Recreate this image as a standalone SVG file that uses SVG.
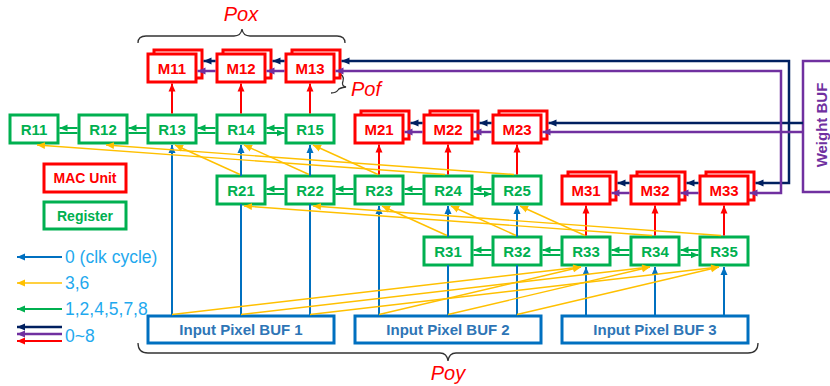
<svg xmlns="http://www.w3.org/2000/svg" width="830" height="386" viewBox="0 0 830 386">
<style>
.reg rect{fill:#fff;stroke:#00B050;stroke-width:3}
.reg text{fill:#00B050;font:bold 15px "Liberation Sans",Arial,sans-serif;text-anchor:middle}
.mac rect{fill:#fff;stroke:#FF0000;stroke-width:3}
.mac text{fill:#FF0000;font:bold 15px "Liberation Sans",Arial,sans-serif;text-anchor:middle}
.buf rect{fill:#fff;stroke:#0070C0;stroke-width:3}
.buf text{fill:#2E75B6;font:bold 15px "Liberation Sans",Arial,sans-serif;text-anchor:middle}
.g{stroke:#00B050;stroke-width:2;fill:none}
.b{stroke:#0070C0;stroke-width:2;fill:none}
.y{stroke:#FFC000;stroke-width:1.4;fill:none}
.r{stroke:#FF0000;stroke-width:2;fill:none}
.n{stroke:#002060;stroke-width:2.5;fill:none}
.p{stroke:#7030A0;stroke-width:2.5;fill:none}
.lg{fill:#1FA9EE;font:17.5px "Liberation Sans",Arial,sans-serif}
.it{fill:#FF0000;font:italic 20px "Liberation Sans",Arial,sans-serif}
.br{stroke:#333;stroke-width:1.3;fill:none}
</style>
<defs>
<marker id="ag" markerUnits="userSpaceOnUse" markerWidth="8" markerHeight="8" viewBox="0 0 8 8" refX="8" refY="4" orient="auto"><path d="M0,0.5L8,4L0,7.5z" fill="#00B050"/></marker>
<marker id="ab" markerUnits="userSpaceOnUse" markerWidth="8" markerHeight="8" viewBox="0 0 8 8" refX="8" refY="4" orient="auto"><path d="M0,0.5L8,4L0,7.5z" fill="#0070C0"/></marker>
<marker id="ay" markerUnits="userSpaceOnUse" markerWidth="8" markerHeight="8" viewBox="0 0 8 8" refX="8" refY="4" orient="auto"><path d="M0,0.5L8,4L0,7.5z" fill="#FFC000"/></marker>
<marker id="ar" markerUnits="userSpaceOnUse" markerWidth="8" markerHeight="8" viewBox="0 0 8 8" refX="8" refY="4" orient="auto"><path d="M0,0.5L8,4L0,7.5z" fill="#FF0000"/></marker>
<marker id="an" markerUnits="userSpaceOnUse" markerWidth="8" markerHeight="8" viewBox="0 0 8 8" refX="8" refY="4" orient="auto"><path d="M0,0.5L8,4L0,7.5z" fill="#002060"/></marker>
<marker id="ap" markerUnits="userSpaceOnUse" markerWidth="8" markerHeight="8" viewBox="0 0 8 8" refX="8" refY="4" orient="auto"><path d="M0,0.5L8,4L0,7.5z" fill="#7030A0"/></marker>
</defs>
<rect width="830" height="386" fill="#fff"/>

<!-- braces and labels -->
<path class="br" d="M138,43 Q138,36 146,36 L234,36 Q241,36 242,29 Q243,36 250,36 L337,36 Q345,36 345,43"/>
<text class="it" x="241" y="21" text-anchor="middle">Pox</text>
<path class="br" d="M337,73 Q345,75 343,81 Q341,86 346,87 Q339,88 338,90 Q336,93 331,93"/>
<text class="it" x="351" y="96">Pof</text>
<path class="br" d="M138,343 Q138,353 148,353 L440,353 Q447,353 448,361 Q449,353 456,353 L748,353 Q758,353 758,343"/>
<text class="it" x="448" y="380" text-anchor="middle">Poy</text>

<!-- Weight BUF -->
<g id="weightbuf">
<rect x="803" y="61" width="40" height="131" fill="#fff" stroke="#7030A0" stroke-width="2.5"/>
<text transform="translate(827,125) rotate(-90)" text-anchor="middle" fill="#7030A0" style="font:bold 15px 'Liberation Sans',Arial,sans-serif">Weight BUF</text>
</g>

<!-- MAC units -->
<g id="M11" class="mac"><rect x="154" y="50" width="48" height="28"/><rect x="148" y="54" width="48" height="28"/><text x="172" y="73.5">M11</text></g>
<g id="M12" class="mac"><rect x="223" y="50" width="48" height="28"/><rect x="217" y="54" width="48" height="28"/><text x="241" y="73.5">M12</text></g>
<g id="M13" class="mac"><rect x="292" y="50" width="48" height="28"/><rect x="286" y="54" width="48" height="28"/><text x="310" y="73.5">M13</text></g>
<g id="M21" class="mac"><rect x="361" y="111" width="48" height="28"/><rect x="355" y="115" width="48" height="28"/><text x="379" y="134.5">M21</text></g>
<g id="M22" class="mac"><rect x="430" y="111" width="48" height="28"/><rect x="424" y="115" width="48" height="28"/><text x="448" y="134.5">M22</text></g>
<g id="M23" class="mac"><rect x="499" y="111" width="48" height="28"/><rect x="493" y="115" width="48" height="28"/><text x="517" y="134.5">M23</text></g>
<g id="M31" class="mac"><rect x="568" y="172" width="48" height="28"/><rect x="562" y="176" width="48" height="28"/><text x="586" y="195.5">M31</text></g>
<g id="M32" class="mac"><rect x="637" y="172" width="48" height="28"/><rect x="631" y="176" width="48" height="28"/><text x="655" y="195.5">M32</text></g>
<g id="M33" class="mac"><rect x="706" y="172" width="48" height="28"/><rect x="700" y="176" width="48" height="28"/><text x="724" y="195.5">M33</text></g>

<!-- Registers -->
<g id="R11" class="reg"><rect x="10" y="115" width="48" height="28"/><text x="34" y="134.5">R11</text></g>
<g id="R12" class="reg"><rect x="79" y="115" width="48" height="28"/><text x="103" y="134.5">R12</text></g>
<g id="R13" class="reg"><rect x="148" y="115" width="48" height="28"/><text x="172" y="134.5">R13</text></g>
<g id="R14" class="reg"><rect x="217" y="115" width="48" height="28"/><text x="241" y="134.5">R14</text></g>
<g id="R15" class="reg"><rect x="286" y="115" width="48" height="28"/><text x="310" y="134.5">R15</text></g>
<g id="R21" class="reg"><rect x="217" y="176" width="48" height="28"/><text x="241" y="195.5">R21</text></g>
<g id="R22" class="reg"><rect x="286" y="176" width="48" height="28"/><text x="310" y="195.5">R22</text></g>
<g id="R23" class="reg"><rect x="355" y="176" width="48" height="28"/><text x="379" y="195.5">R23</text></g>
<g id="R24" class="reg"><rect x="424" y="176" width="48" height="28"/><text x="448" y="195.5">R24</text></g>
<g id="R25" class="reg"><rect x="493" y="176" width="48" height="28"/><text x="517" y="195.5">R25</text></g>
<g id="R31" class="reg"><rect x="424" y="237" width="48" height="28"/><text x="448" y="256.5">R31</text></g>
<g id="R32" class="reg"><rect x="493" y="237" width="48" height="28"/><text x="517" y="256.5">R32</text></g>
<g id="R33" class="reg"><rect x="562" y="237" width="48" height="28"/><text x="586" y="256.5">R33</text></g>
<g id="R34" class="reg"><rect x="631" y="237" width="48" height="28"/><text x="655" y="256.5">R34</text></g>
<g id="R35" class="reg"><rect x="700" y="237" width="48" height="28"/><text x="724" y="256.5">R35</text></g>

<!-- Input buffers -->
<g id="BUF1" class="buf"><rect x="148" y="316" width="186" height="27"/><text x="241" y="335">Input Pixel BUF 1</text></g>
<g id="BUF2" class="buf"><rect x="355" y="316" width="186" height="27"/><text x="448" y="335">Input Pixel BUF 2</text></g>
<g id="BUF3" class="buf"><rect x="562" y="316" width="186" height="27"/><text x="655" y="335">Input Pixel BUF 3</text></g>

<!-- Legend -->
<g id="legend-mac" class="mac"><rect x="44" y="164" width="82" height="28"/><text x="85" y="183" style="font-size:14px">MAC Unit</text></g>
<g id="legend-reg" class="reg"><rect x="44" y="202" width="82" height="27"/><text x="85" y="220.5" style="font-size:14px">Register</text></g>
<g id="legend-keys">
<path class="b" d="M62,257H17" marker-end="url(#ab)"/>
<path class="y" d="M62,283H17" stroke-width="2" marker-end="url(#ay)"/>
<path class="g" d="M62,309H17" marker-end="url(#ag)"/>
<path class="n" d="M62,327H17" marker-end="url(#an)"/>
<path class="p" d="M62,334H17" marker-end="url(#ap)"/>
<path class="r" d="M62,341H17" stroke-width="2.5" marker-end="url(#ar)"/>
<text class="lg" x="65" y="263">0 (clk cycle)</text>
<text class="lg" x="65" y="289">3,6</text>
<text class="lg" x="65" y="315">1,2,4,5,7,8</text>
<text class="lg" x="65" y="342">0~8</text>
</g>

<g id="connectors">
<!-- weight lines -->
<path class="n" d="M789,123V61H341.5" marker-end="url(#an)"/>
<path class="n" d="M789,123V183H755.5" marker-end="url(#an)"/>
<path class="n" d="M803,123H548.5" marker-end="url(#an)"/>
<path class="p" d="M781,132V71H335.5" marker-end="url(#ap)"/>
<path class="p" d="M781,132V193H749.5" marker-end="url(#ap)"/>
<path class="p" d="M803,132H542.5" marker-end="url(#ap)"/>
<path class="n" d="M215.5,61H203.5" marker-end="url(#an)"/>
<path class="n" d="M284.5,61H272.5" marker-end="url(#an)"/>
<path class="p" d="M215.5,71H197.5" marker-end="url(#ap)"/>
<path class="p" d="M284.5,71H266.5" marker-end="url(#ap)"/>
<path class="n" d="M422.5,123H410.5" marker-end="url(#an)"/>
<path class="n" d="M491.5,123H479.5" marker-end="url(#an)"/>
<path class="p" d="M422.5,132H404.5" marker-end="url(#ap)"/>
<path class="p" d="M491.5,132H473.5" marker-end="url(#ap)"/>
<path class="n" d="M629.5,183H617.5" marker-end="url(#an)"/>
<path class="n" d="M698.5,183H686.5" marker-end="url(#an)"/>
<path class="p" d="M629.5,193H611.5" marker-end="url(#ap)"/>
<path class="p" d="M698.5,193H680.5" marker-end="url(#ap)"/>
<!-- register to MAC -->
<path class="r" d="M172,113.5V83.5" marker-end="url(#ar)"/>
<path class="r" d="M241,113.5V83.5" marker-end="url(#ar)"/>
<path class="r" d="M310,113.5V83.5" marker-end="url(#ar)"/>
<path class="r" d="M379,174.5V144.5" marker-end="url(#ar)"/>
<path class="r" d="M448,174.5V144.5" marker-end="url(#ar)"/>
<path class="r" d="M517,174.5V144.5" marker-end="url(#ar)"/>
<path class="r" d="M586,235.5V205.5" marker-end="url(#ar)"/>
<path class="r" d="M655,235.5V205.5" marker-end="url(#ar)"/>
<path class="r" d="M724,235.5V205.5" marker-end="url(#ar)"/>
<!-- green shifts -->
<path class="g" d="M77.5,128H59.5" marker-end="url(#ag)"/><path class="g" d="M59.5,133H77.5"/>
<path class="g" d="M146.5,128H128.5" marker-end="url(#ag)"/><path class="g" d="M128.5,133H146.5"/>
<path class="g" d="M215.5,128H197.5" marker-end="url(#ag)"/><path class="g" d="M197.5,133H215.5"/>
<path class="g" d="M284.5,128H266.5" marker-end="url(#ag)"/><path class="g" d="M266.5,133H284.5" marker-end="url(#ag)"/>
<path class="g" d="M284.5,189H266.5" marker-end="url(#ag)"/><path class="g" d="M266.5,194H284.5"/>
<path class="g" d="M353.5,189H335.5" marker-end="url(#ag)"/><path class="g" d="M335.5,194H353.5"/>
<path class="g" d="M422.5,189H404.5" marker-end="url(#ag)"/><path class="g" d="M404.5,194H422.5"/>
<path class="g" d="M491.5,189H473.5" marker-end="url(#ag)"/><path class="g" d="M473.5,194H491.5" marker-end="url(#ag)"/>
<path class="g" d="M491.5,250H473.5" marker-end="url(#ag)"/><path class="g" d="M473.5,255H491.5"/>
<path class="g" d="M560.5,250H542.5" marker-end="url(#ag)"/><path class="g" d="M542.5,255H560.5"/>
<path class="g" d="M629.5,250H611.5" marker-end="url(#ag)"/><path class="g" d="M611.5,255H629.5"/>
<path class="g" d="M698.5,250H680.5" marker-end="url(#ag)"/><path class="g" d="M680.5,255H698.5" marker-end="url(#ag)"/>
<!-- input (clk 0) -->
<path class="b" d="M172,316V145" marker-end="url(#ab)"/>
<path class="b" d="M241,316V204"/><path class="b" d="M241,176V145" marker-end="url(#ab)"/>
<path class="b" d="M310,316V204"/><path class="b" d="M310,176V145" marker-end="url(#ab)"/>
<path class="b" d="M379,316V206" marker-end="url(#ab)"/>
<path class="b" d="M448,316V265"/><path class="b" d="M448,237V206" marker-end="url(#ab)"/>
<path class="b" d="M517,316V265"/><path class="b" d="M517,237V206" marker-end="url(#ab)"/>
<path class="b" d="M586,316V267" marker-end="url(#ab)"/>
<path class="b" d="M655,316V267" marker-end="url(#ab)"/>
<path class="b" d="M724,316V267" marker-end="url(#ab)"/>
<!-- clk 3,6 -->
<path class="y" d="M445,174.5L37,145" marker-end="url(#ay)"/>
<path class="y" d="M514,174.5L106,145" marker-end="url(#ay)"/>
<path class="y" d="M240,174.5L175,145" marker-end="url(#ay)"/>
<path class="y" d="M309,174.5L244,145" marker-end="url(#ay)"/>
<path class="y" d="M378,174.5L313,145" marker-end="url(#ay)"/>
<path class="y" d="M652,235.5L244,206" marker-end="url(#ay)"/>
<path class="y" d="M721,235.5L313,206" marker-end="url(#ay)"/>
<path class="y" d="M447,235.5L382,206" marker-end="url(#ay)"/>
<path class="y" d="M516,235.5L451,206" marker-end="url(#ay)"/>
<path class="y" d="M585,235.5L520,206" marker-end="url(#ay)"/>
<path class="y" d="M172,314.5L581,267" marker-end="url(#ay)"/>
<path class="y" d="M379,314.5L581,267" marker-end="url(#ay)"/>
<path class="y" d="M241,314.5L650,267" marker-end="url(#ay)"/>
<path class="y" d="M448,314.5L650,267" marker-end="url(#ay)"/>
<path class="y" d="M310,314.5L719,267" marker-end="url(#ay)"/>
<path class="y" d="M517,314.5L719,267" marker-end="url(#ay)"/>
</g>
</svg>
